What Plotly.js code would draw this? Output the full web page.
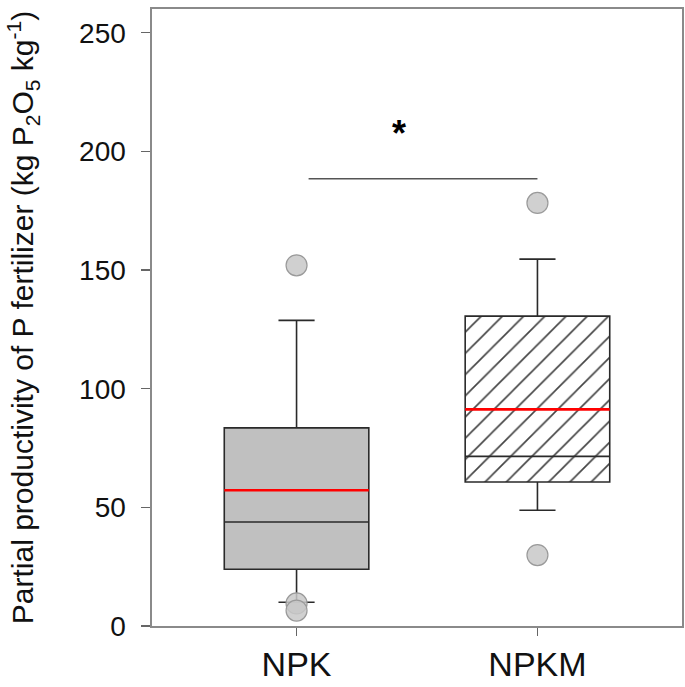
<!DOCTYPE html>
<html>
<head>
<meta charset="utf-8">
<script src="https://cdn.plot.ly/plotly-3.0.1.min.js"></script>
<style>html,body{margin:0;padding:0;background:#fff;}#chart{width:685px;height:687px;}</style>
</head>
<body>
<div id="chart"></div>
<script>
// ---- data ----
var categories = ['NPK', 'NPKM'];
var q1 = [23.9, 60.7];
var medians = [43.8, 71.5];
var q3 = [83.5, 130.6];
var lowerWhisker = [10.0, 48.8];
var upperWhisker = [128.8, 154.6];
var means = [57.2, 91.3];
var outliersNPK = [152.0, 9.5, 6.5];
var outliersNPKM = [178.3, 29.9];
var fillColors = ['#c0c0c0', '#ffffff'];
var patterns = ['', '/'];
var sigLevel = 188.5;      // bracket height (y units)
var sigFrom = 0.05, sigTo = 1.0;
var sigLabel = '*';

var positions = categories.map(function (c, i) { return i; });
var boxW = 0.6;

// bars give the box fill (solid / hatched)
var fillTrace = {
  type: 'bar',
  x: positions,
  base: q1,
  y: q3.map(function (v, i) { return v - q1[i]; }),
  width: boxW,
  marker: {
    color: fillColors,
    line: { width: 0 },
    pattern: { shape: patterns, fgcolor: '#000', fgopacity: 1, bgcolor: fillColors, size: 15, solidity: 0.11, fillmode: 'overlay' }
  },
  hoverinfo: 'skip',
  showlegend: false
};

var boxTrace = {
  type: 'box',
  x: positions,
  q1: q1,
  median: medians,
  q3: q3,
  lowerfence: lowerWhisker,
  upperfence: upperWhisker,
  width: boxW,
  whiskerwidth: 0.25,
  boxpoints: false,
  fillcolor: 'rgba(0,0,0,0)',
  line: { color: '#2a2a2a', width: 1.6 },
  showlegend: false
};

var mx = [], my = [];
positions.forEach(function (p, i) {
  mx.push(p - boxW / 2, p + boxW / 2, null);
  my.push(means[i], means[i], null);
});
var meanTrace = {
  type: 'scatter', mode: 'lines', x: mx, y: my,
  line: { color: '#ff0000', width: 2.6 }, hoverinfo: 'skip', showlegend: false
};

var ox = [], oy = [];
outliersNPK.forEach(function (v) { ox.push(0); oy.push(v); });
outliersNPKM.forEach(function (v) { ox.push(1); oy.push(v); });
var outTrace = {
  type: 'scatter', mode: 'markers', x: ox, y: oy,
  marker: { size: 21, color: 'rgba(200,200,200,0.85)', line: { color: '#9a9a9a', width: 1.2 } },
  showlegend: false
};

var sigTrace = {
  type: 'scatter', mode: 'lines', x: [sigFrom, sigTo], y: [sigLevel, sigLevel],
  line: { color: '#555', width: 1.6 }, hoverinfo: 'skip', showlegend: false
};

var font = 'Arial, "Liberation Sans", sans-serif';
var layout = {
  width: 685, height: 687,
  margin: { l: 152, r: 3, t: 9, b: 61 },
  paper_bgcolor: '#fff', plot_bgcolor: '#fff',
  font: { family: font, color: '#111' },
  barmode: 'overlay',
  xaxis: {
    range: [-0.6, 1.6],
    tickvals: positions, ticktext: categories,
    ticks: 'outside', ticklen: 8, tickwidth: 1.5, tickcolor: '#666',
    ticklabelstandoff: 0,
    tickfont: { size: 34, family: font, color: '#111' },
    showline: true, mirror: true, linecolor: '#8a8a8a', linewidth: 1.6,
    showgrid: false, zeroline: false
  },
  yaxis: {
    range: [0, 260],
    tickvals: [0, 50, 100, 150, 200, 250],
    ticks: 'outside', ticklen: 9, tickwidth: 1.5, tickcolor: '#666',
    ticklabelstandoff: 10,
    tickfont: { size: 28, family: font, color: '#111' },
    showline: true, mirror: true, linecolor: '#8a8a8a', linewidth: 1.6,
    showgrid: false, zeroline: false,
    title: {
      text: 'Partial productivity of P fertilizer (kg P<sub>2</sub>O<sub>5</sub> kg<sup>-1</sup>)',
      font: { size: 30, family: font, color: '#111' },
      standoff: 36
    }
  },
  annotations: [{
    x: (sigFrom + sigTo) / 2 - 0.1, y: sigLevel + 19, xref: 'x', yref: 'y',
    text: '<b>' + sigLabel + '</b>', showarrow: false,
    font: { size: 36, family: font, color: '#000' }
  }]
};

Plotly.newPlot('chart', [fillTrace, boxTrace, meanTrace, sigTrace, outTrace], layout, { displayModeBar: false, staticPlot: true });
</script>
</body>
</html>
